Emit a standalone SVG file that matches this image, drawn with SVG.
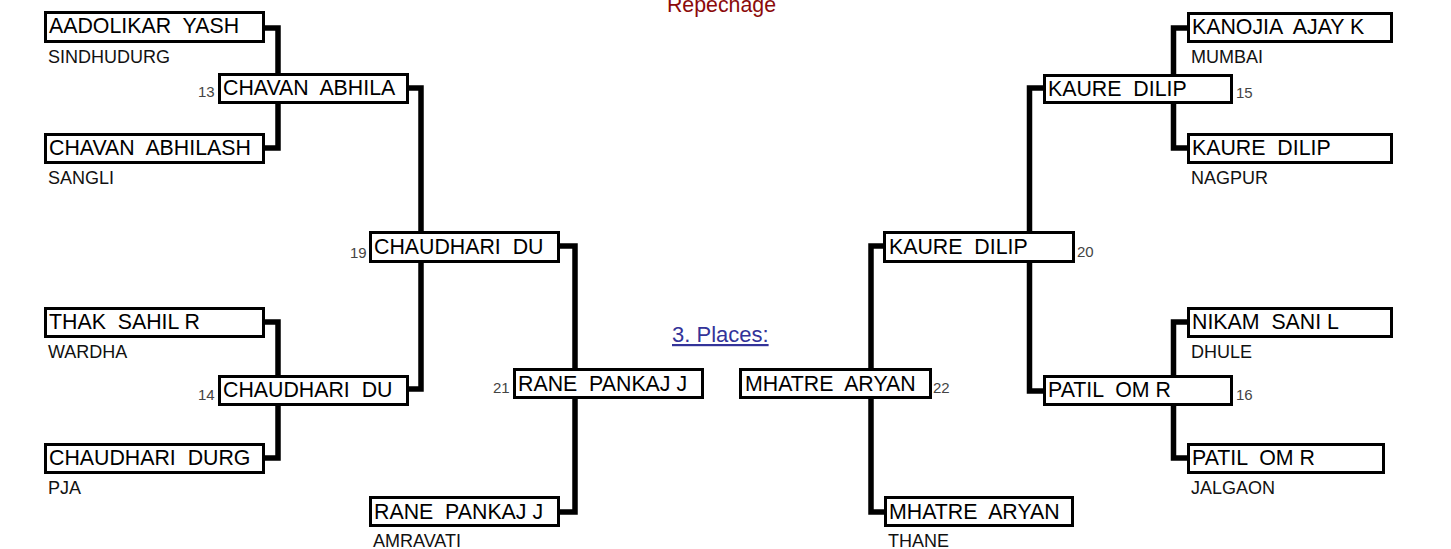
<svg xmlns="http://www.w3.org/2000/svg" width="1451" height="549" viewBox="0 0 1451 549">
<style>
text{font-family:"Liberation Sans",Arial,sans-serif;white-space:pre}
.box{fill:#fff;stroke:#000;stroke-width:3}
.nm{font-size:21.33px;fill:#000}
.sub{font-size:18px;fill:#111}
.num{font-size:15px;fill:#444}
.con{fill:none;stroke:#000;stroke-width:5.5;stroke-linejoin:miter;stroke-linecap:butt}
.title{font-size:21.33px;fill:#8b0a0a}
.link{font-size:22px;fill:#333399;text-decoration:underline}
</style>
<rect width="1451" height="549" fill="#fff"/>
<text class="title" x="721.5" y="12" text-anchor="middle">Repechage</text>
<text class="link" x="672" y="342">3. Places:</text>
<g id="connectors">
<path class="con" d="M265,28 H278 V148 H265"/>
<path class="con" d="M409,88 H421 V389 H409"/>
<path class="con" d="M265,322 H278 V458 H265"/>
<path class="con" d="M560,246 H575 V512 H560"/>
<path class="con" d="M1187,28 H1173.5 V148 H1187"/>
<path class="con" d="M1043,88 H1029.5 V391 H1043"/>
<path class="con" d="M1187,322 H1173.5 V458 H1187"/>
<path class="con" d="M883,246 H871 V512 H884"/>
</g>
<g id="n1"><rect class="box" x="45.5" y="12.5" width="218" height="29"/><text class="nm" x="49" y="33" xml:space="preserve">AADOLIKAR  YASH</text><text class="sub" x="48" y="63">SINDHUDURG</text></g>
<g id="n2"><rect class="box" x="45.5" y="134.5" width="218" height="28"/><text class="nm" x="49" y="155" xml:space="preserve">CHAVAN  ABHILASH</text><text class="sub" x="48" y="184">SANGLI</text></g>
<g id="n3"><rect class="box" x="45.5" y="308.5" width="218" height="28"/><text class="nm" x="49" y="329" xml:space="preserve">THAK  SAHIL R</text><text class="sub" x="48" y="358">WARDHA</text></g>
<g id="n4"><rect class="box" x="45.5" y="444.5" width="218" height="28"/><text class="nm" x="49" y="465" xml:space="preserve">CHAUDHARI  DURG</text><text class="sub" x="48" y="494">PJA</text></g>
<g id="n5"><rect class="box" x="219.5" y="74.5" width="188" height="28"/><text class="nm" x="223" y="95" xml:space="preserve">CHAVAN  ABHILA</text><text class="num" x="198" y="97">13</text></g>
<g id="n6"><rect class="box" x="219.5" y="376.5" width="188" height="28"/><text class="nm" x="223" y="397" xml:space="preserve">CHAUDHARI  DU</text><text class="num" x="198" y="400">14</text></g>
<g id="n7"><rect class="box" x="370.5" y="232.5" width="188" height="29"/><text class="nm" x="374" y="254" xml:space="preserve">CHAUDHARI  DU</text><text class="num" x="350" y="258">19</text></g>
<g id="n8"><rect class="box" x="514.5" y="369.5" width="188" height="28"/><text class="nm" x="518" y="391" xml:space="preserve">RANE  PANKAJ J</text><text class="num" x="493" y="393">21</text></g>
<g id="n9"><rect class="box" x="370.5" y="497.5" width="188" height="28"/><text class="nm" x="374" y="519" xml:space="preserve">RANE  PANKAJ J</text><text class="sub" x="373" y="547">AMRAVATI</text></g>
<g id="n10"><rect class="box" x="740.5" y="369.5" width="190" height="28"/><text class="nm" x="745" y="391" xml:space="preserve">MHATRE  ARYAN</text><text class="num" x="933" y="393">22</text></g>
<g id="n11"><rect class="box" x="885.5" y="497.5" width="187" height="28"/><text class="nm" x="889" y="519" xml:space="preserve">MHATRE  ARYAN</text><text class="sub" x="888" y="547">THANE</text></g>
<g id="n12"><rect class="box" x="884.5" y="232.5" width="189" height="29"/><text class="nm" x="889" y="254" xml:space="preserve">KAURE  DILIP</text><text class="num" x="1077" y="257">20</text></g>
<g id="n13"><rect class="box" x="1044.5" y="75.5" width="187" height="27"/><text class="nm" x="1048" y="96" xml:space="preserve">KAURE  DILIP</text><text class="num" x="1236" y="98">15</text></g>
<g id="n14"><rect class="box" x="1188.5" y="13.5" width="203" height="28"/><text class="nm" x="1192" y="34" xml:space="preserve">KANOJIA  AJAY K</text><text class="sub" x="1191" y="63">MUMBAI</text></g>
<g id="n15"><rect class="box" x="1188.5" y="134.5" width="203" height="28"/><text class="nm" x="1192" y="155" xml:space="preserve">KAURE  DILIP</text><text class="sub" x="1191" y="184">NAGPUR</text></g>
<g id="n16"><rect class="box" x="1044.5" y="376.5" width="187" height="28"/><text class="nm" x="1048" y="397" xml:space="preserve">PATIL  OM R</text><text class="num" x="1236" y="400">16</text></g>
<g id="n17"><rect class="box" x="1188.5" y="308.5" width="203" height="28"/><text class="nm" x="1192" y="329" xml:space="preserve">NIKAM  SANI L</text><text class="sub" x="1191" y="358">DHULE</text></g>
<g id="n18"><rect class="box" x="1188.5" y="444.5" width="195" height="28"/><text class="nm" x="1192" y="465" xml:space="preserve">PATIL  OM R</text><text class="sub" x="1191" y="494">JALGAON</text></g>
</svg>
